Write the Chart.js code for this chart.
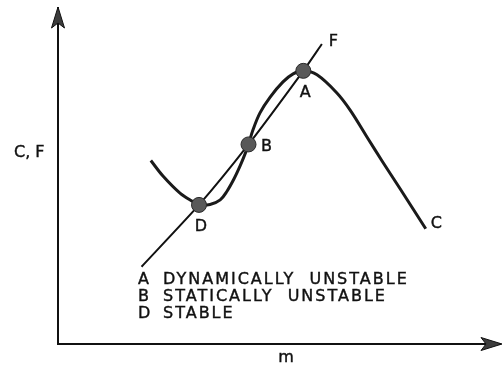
<!DOCTYPE html>
<html>
<head>
<meta charset="utf-8">
<script src="https://cdn.jsdelivr.net/npm/chart.js@4/dist/chart.umd.min.js"></script>
<style>
  html, body { margin: 0; padding: 0; background: #ffffff; }
  #wrap { width: 502px; height: 369px; }
</style>
</head>
<body>
<div id="wrap"><canvas id="c" width="502" height="369"></canvas></div>
<script>
// Curve C (value against m), arbitrary units
const curveC_m = [21.0, 23.8, 27.6, 30.5, 31.9, 34.4, 36.7, 38.2, 39.8, 41.2, 42.3, 43.1, 44.1, 45.7, 48.0, 50.9, 53.2, 55.5, 58.6, 63.1, 66.1, 69.9, 73.5, 77.4, 83.2];
const curveC_v = [54.6, 49.9, 44.9, 42.4, 41.4, 41.5, 42.9, 45.4, 49.1, 53.0, 56.5, 59.4, 63.7, 68.8, 73.5, 78.0, 80.4, 81.3, 80.1, 74.7, 69.6, 61.6, 54.1, 46.2, 34.3];

// Line F
const lineF_m = [18.9, 31.9, 43.1, 55.5, 59.7];
const lineF_v = [23.0, 41.4, 59.4, 81.3, 89.3];

// Points where C meets F
const eqNames = ['A', 'B', 'D'];
const eq_m = [55.5, 43.1, 31.9];
const eq_v = [81.3, 59.4, 41.4];
const eqNotes = ['DYNAMICALLY  UNSTABLE', 'STATICALLY  UNSTABLE', 'STABLE'];

const axisTitleX = 'm';
const axisTitleY = 'C, F';
const curveNameC = 'C';
const curveNameF = 'F';

const toXY = (xs, ys) => xs.map((x, i) => ({ x: x, y: ys[i] }));

const FONT = '16px "DejaVu Sans"';
const INK = '#111111';

function arrowHead(ctx, tx, ty, dir) {
  // dir: 'up' or 'right'; barbed head
  const L = 21, H = 6.5, N = 5;
  ctx.save();
  ctx.beginPath();
  if (dir === 'up') {
    ctx.moveTo(tx, ty);
    ctx.lineTo(tx + H, ty + L);
    ctx.lineTo(tx, ty + L - N);
    ctx.lineTo(tx - H, ty + L);
  } else {
    ctx.moveTo(tx, ty);
    ctx.lineTo(tx - L, ty - H);
    ctx.lineTo(tx - L + N, ty);
    ctx.lineTo(tx - L, ty + H);
  }
  ctx.closePath();
  ctx.fillStyle = '#3c3c3c';
  ctx.fill();
  ctx.lineWidth = 1;
  ctx.strokeStyle = '#111';
  ctx.stroke();
  ctx.restore();
}

function text(ctx, s, x, y, align) {
  ctx.textAlign = align || 'left';
  ctx.fillText(s, x, y);
  ctx.strokeText(s, x, y);
}

const annotate = {
  id: 'annotate',
  afterDraw(chart) {
    const ctx = chart.ctx;
    const xs = chart.scales.x, ys = chart.scales.y;
    const ca = chart.chartArea;

    arrowHead(ctx, ca.left, ca.top - 1, 'up');
    arrowHead(ctx, ca.right + 2, ca.bottom, 'right');

    ctx.save();
    ctx.fillStyle = INK;
    ctx.strokeStyle = INK;
    ctx.lineWidth = 0.4;
    ctx.font = FONT;
    ctx.textBaseline = 'middle';
    ctx.letterSpacing = '0px';

    // axis titles
    text(ctx, axisTitleY, 14, ys.getPixelForValue(57), 'left');
    text(ctx, axisTitleX, xs.getPixelForValue(51.6), ca.bottom + 14, 'center');

    // curve names at line ends
    const fEnd = lineF_m.length - 1;
    text(ctx, curveNameF, xs.getPixelForValue(lineF_m[fEnd]) + 7, ys.getPixelForValue(lineF_v[fEnd]) - 2, 'left');
    const cEnd = curveC_m.length - 1;
    text(ctx, curveNameC, xs.getPixelForValue(curveC_m[cEnd]) + 5, ys.getPixelForValue(curveC_v[cEnd]) - 5, 'left');

    // point names
    const offs = { A: [2, 22], B: [18, 2], D: [2, 22] };
    eqNames.forEach((n, i) => {
      const px = xs.getPixelForValue(eq_m[i]);
      const py = ys.getPixelForValue(eq_v[i]);
      text(ctx, n, px + offs[n][0], py + offs[n][1], 'center');
    });

    // key
    ctx.letterSpacing = '2px';
    eqNames.forEach((n, i) => {
      const y = 280 + i * 17;
      text(ctx, n, 138, y, 'left');
      text(ctx, eqNotes[i], 163, y, 'left');
    });
    ctx.restore();
  }
};

new Chart(document.getElementById('c'), {
  type: 'scatter',
  data: {
    datasets: [
      {
        label: 'points',
        data: toXY(eq_m, eq_v),
        pointRadius: 7.5,
        pointBackgroundColor: '#595959',
        pointBorderColor: '#2a2a2a',
        pointBorderWidth: 1,
        showLine: false,
        order: 0
      },
      {
        label: curveNameC,
        data: toXY(curveC_m, curveC_v),
        showLine: true,
        borderColor: '#1a1a1a',
        borderWidth: 3,
        pointRadius: 0,
        tension: 0.35,
        fill: false,
        order: 1
      },
      {
        label: curveNameF,
        data: toXY(lineF_m, lineF_v),
        showLine: true,
        borderColor: INK,
        borderWidth: 2,
        pointRadius: 0,
        tension: 0.2,
        fill: false,
        order: 2
      }
    ]
  },
  options: {
    responsive: false,
    devicePixelRatio: 1,
    animation: false,
    events: [],
    layout: { autoPadding: false, padding: { left: 58, right: 2, top: 8, bottom: 25 } },
    plugins: { legend: { display: false }, tooltip: { enabled: false }, title: { display: false } },
    scales: {
      x: {
        type: 'linear', min: 0, max: 100,
        grid: { display: false },
        ticks: { display: false },
        border: { display: true, color: INK, width: 2 },
        afterFit(s) { s.height = 0; }
      },
      y: {
        type: 'linear', min: 0, max: 100,
        grid: { display: false },
        ticks: { display: false },
        border: { display: true, color: INK, width: 2 },
        afterFit(s) { s.width = 0; }
      }
    }
  },
  plugins: [annotate]
});
</script>
</body>
</html>
